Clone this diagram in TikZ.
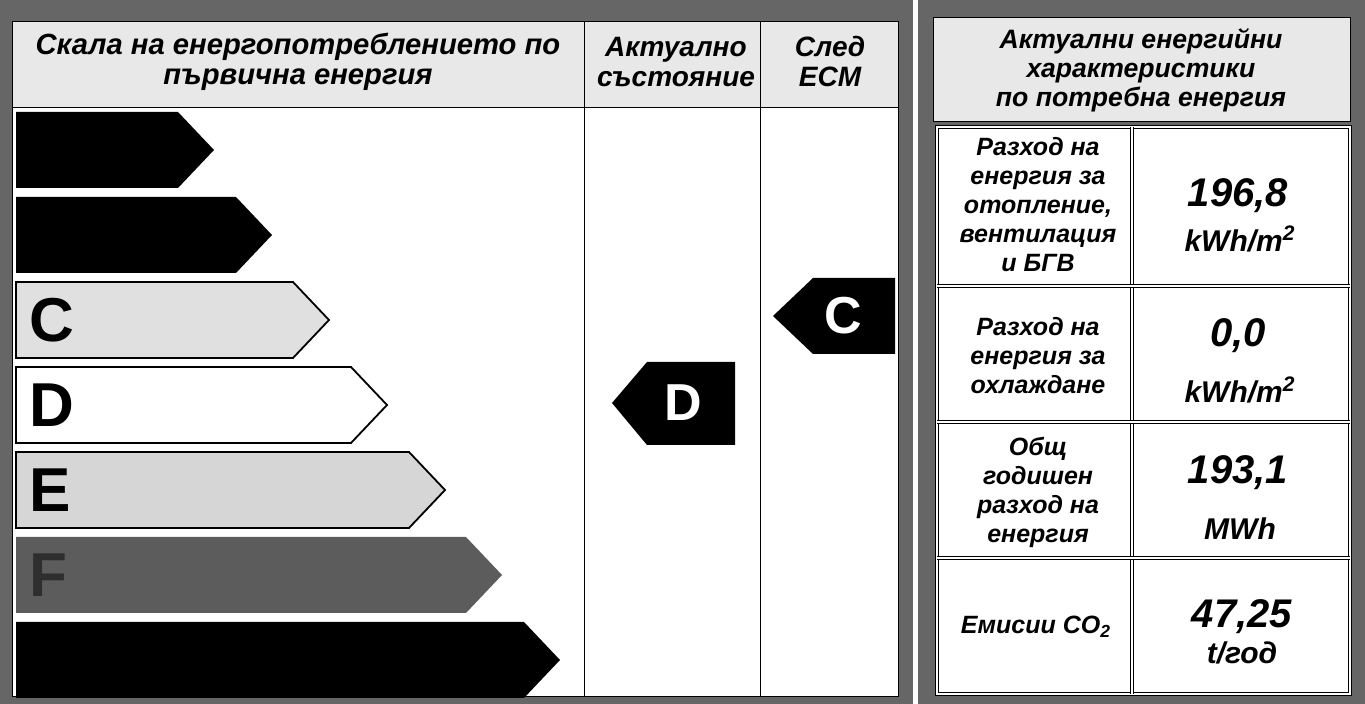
\documentclass[tikz,border=0pt]{standalone}
\usepackage{fontspec}
\setmainfont{Liberation Sans}
\usepackage{tikz}
\usetikzlibrary{positioning}
\definecolor{frame}{gray}{0.4}
\definecolor{headbg}{gray}{0.91}
\definecolor{barlight}{gray}{0.88}
\definecolor{barmid}{gray}{0.84}
\definecolor{bardark}{gray}{0.36}
\definecolor{letterF}{gray}{0.18}

\begin{document}
\begin{tikzpicture}[
  x=0.5pt, y=-0.5pt,
  frm/.style={fill=frame, draw=none},
  grid/.style={draw=black, line width=0.5pt},
  dbl/.style={draw=black, line width=0.4pt, double=white, double distance=1.2pt},
  bar/.style={draw=black, line width=0.9pt},
  tag/.style={fill=black, draw=none},
  hd/.style={font=\fontsize{14.6}{15}\selectfont\bfseries\itshape, align=center, inner sep=0pt},
  hdc/.style={font=\fontsize{14}{15}\selectfont\bfseries\itshape, align=center, inner sep=0pt},
  hdr/.style={font=\fontsize{13.3}{14.5}\selectfont\bfseries\itshape, align=center, inner sep=0pt},
  lbl/.style={font=\fontsize{12.5}{14.5}\selectfont\bfseries\itshape, align=center, inner sep=0pt},
  val/.style={font=\fontsize{20}{22}\selectfont\bfseries\itshape, inner sep=0pt},
  unit/.style={font=\fontsize{15}{17}\selectfont\bfseries\itshape, inner sep=0pt},
  cls/.style={font=\fontsize{31}{31}\selectfont\bfseries, inner sep=0pt, anchor=west},
  clsw/.style={font=\fontsize{26}{26}\selectfont\bfseries, inner sep=0pt, text=white}
]
  \useasboundingbox (0,0) rectangle (1365,704);
  \fill[white] (0,0) rectangle (1365,704);

  % left panel
  \fill[frm] (0,0) rectangle (913,704);
  \fill[white] (12,22) rectangle (898,697);
  \fill[headbg] (12,22) rectangle (898,108);
  \draw[grid] (12,22) rectangle (898,697);
  \draw[grid] (12,108) -- (898,108);
  \draw[grid] (584,22) -- (584,697);
  \draw[grid] (760,22) -- (760,697);

  \node[hd] (hscale) at (298,62) {Скала на енергопотреблението по\\първична енергия};
  \node[hdc] (hnow) at (676,62) {Актуално\\състояние};
  \node[hdc] (hecm) at (830,62) {След\\ЕСМ};

  % scale bars
  \fill[black] (16,112) -- (178,112) -- (214,150) -- (178,188) -- (16,188) -- cycle;
  \fill[black] (16,197) -- (236,197) -- (272,235) -- (236,273) -- (16,273) -- cycle;
  \draw[bar, fill=barlight] (16,282) -- (293,282) -- (329,320) -- (293,358) -- (16,358) -- cycle;
  \draw[bar, fill=white] (16,367) -- (351,367) -- (387,405) -- (351,443) -- (16,443) -- cycle;
  \draw[bar, fill=barmid] (16,452) -- (409,452) -- (445,490) -- (409,528) -- (16,528) -- cycle;
  \fill[bardark] (16,537) -- (466,537) -- (502,575) -- (466,613) -- (16,613) -- cycle;
  \fill[black] (16,622) -- (524,622) -- (560,660) -- (524,698) -- (16,698) -- cycle;

  \node[cls] (cC) at (29,320) {C};
  \node[cls] (cD) at (29,405) {D};
  \node[cls] (cE) at (29,490) {E};
  \node[cls, text=letterF] (cF) at (29,575) {F};

  % class tags
  \fill[tag] (612,403) -- (647,362) -- (735,362) -- (735,445) -- (647,445) -- cycle;
  \node[clsw] (tD) at (683,403) {D};
  \fill[tag] (773,316) -- (813,278) -- (895,278) -- (895,354) -- (813,354) -- cycle;
  \node[clsw] (tC) at (843,316) {C};

  % right panel
  \fill[frm] (918,0) rectangle (1365,704);
  \fill[headbg] (933,18) rectangle (1350,122);
  \draw[grid] (933,18) rectangle (1350,122);
  \fill[white] (935,125) rectangle (1352,695);
  \draw[dbl] (937,127) rectangle (1350,694);
  \draw[dbl] (1132,127) -- (1132,694);
  \draw[dbl] (937,286) -- (1350,286);
  \draw[dbl] (937,422) -- (1350,422);
  \draw[dbl] (937,558) -- (1350,558);

  \node[hdr] (hchar) at (1141,70) {Актуални енергийни\\характеристики\\по потребна енергия};

  % 1st row
  \node[lbl] (l1) at (1038,205) {Разход на\\енергия за\\отопление,\\вентилация\\и БГВ};
  \node[val] (v1) at (1238,196) {196,8};
  \node[unit] (u1) at (1240,239) {kWh/m\textsuperscript{2}};

  % 2nd row
  \node[lbl] (l2) at (1038,356) {Разход на\\енергия за\\охлаждане};
  \node[val] (v2) at (1238,336) {0,0};
  \node[unit] (u2) at (1240,390) {kWh/m\textsuperscript{2}};

  % 3rd row
  \node[lbl] (l3) at (1038,492) {Общ\\годишен\\разход на\\енергия};
  \node[val] (v3) at (1238,473) {193,1};
  \node[unit] (u3) at (1240,529) {MWh};

  % 4th row
  \node[lbl] (l4) at (1036,627) {Емисии CO\textsubscript{2}};
  \node[val] (v4) at (1242,617) {47,25};
  \node[unit] (u4) at (1242,653) {t/год};
\end{tikzpicture}
\end{document}
